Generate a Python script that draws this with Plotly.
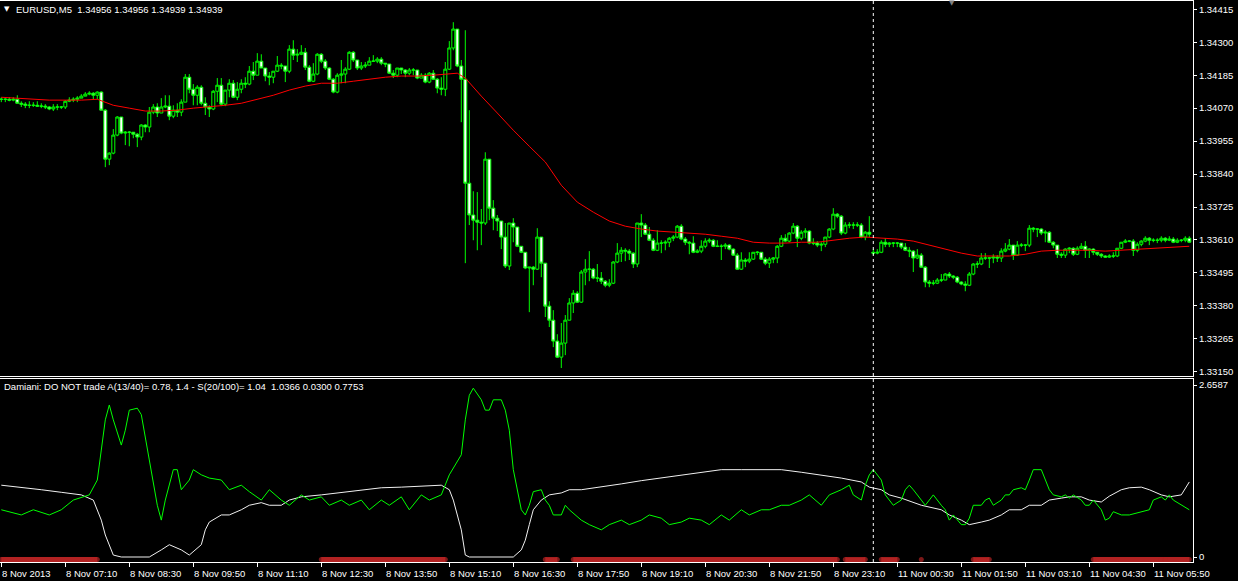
import plotly.graph_objects as go
import pandas as pd

# ---------------- text ----------------
symbol_title = "EURUSD,M5\u00a0\u00a01.34956 1.34956 1.34939 1.34939"
indicator_title = ("Damiani: DO NOT trade A(13/40)= 0.78, 1.4 - S(20/100)= 1.04"
                   "\u00a0\u00a01.0366 0.0300 0.7753")

# ---------------- bar times (M5) ----------------
session1 = pd.date_range("2013-11-08 05:50", "2013-11-08 23:55", freq="5min")
session2 = pd.date_range("2013-11-11 00:00", "2013-11-11 06:35", freq="5min")
times = list(session1) + list(session2)

# ---------------- prices ----------------
first_open = 1.34101
week_open = 1.33567   # first bar of 11 Nov opens with a gap

closes = [
    1.34101, 1.34101, 1.34098, 1.34101, 1.34087, 1.34084, 1.34080, 1.34080, 1.34080, 1.34077,
    1.34077, 1.34074, 1.34067, 1.34074, 1.34074, 1.34074, 1.34094, 1.34098, 1.34101, 1.34105,
    1.34112, 1.34119, 1.34122, 1.34115, 1.34126, 1.34063, 1.33892, 1.33913, 1.33976, 1.34039,
    1.33983, 1.33986, 1.33986, 1.33979, 1.33969, 1.34011, 1.34004, 1.34056, 1.34074, 1.34053,
    1.34074, 1.34077, 1.34042, 1.34063, 1.34056, 1.34091, 1.34178, 1.34136, 1.34115, 1.34143,
    1.34087, 1.34074, 1.34067, 1.34129, 1.34150, 1.34084, 1.34133, 1.34157, 1.34108, 1.34136,
    1.34157, 1.34154, 1.34199, 1.34185, 1.34234, 1.34210, 1.34182, 1.34178, 1.34199, 1.34220,
    1.34217, 1.34199, 1.34276, 1.34255, 1.34258, 1.34265, 1.34213, 1.34164, 1.34189, 1.34258,
    1.34234, 1.34210, 1.34171, 1.34126, 1.34185, 1.34189, 1.34206, 1.34265, 1.34238, 1.34210,
    1.34217, 1.34220, 1.34234, 1.34234, 1.34241, 1.34227, 1.34224, 1.34192, 1.34185, 1.34210,
    1.34203, 1.34192, 1.34203, 1.34203, 1.34175, 1.34185, 1.34161, 1.34192, 1.34171, 1.34140,
    1.34136, 1.34206, 1.34280, 1.34346, 1.34217, 1.34171, 1.33808, 1.33697, 1.33679, 1.33672,
    1.33669, 1.33892, 1.33721, 1.33686, 1.33676, 1.33620, 1.33519, 1.33669, 1.33655, 1.33588,
    1.33567, 1.33512, 1.33515, 1.33508, 1.33620, 1.33529, 1.33379, 1.33330, 1.33257, 1.33201,
    1.33250, 1.33330, 1.33390, 1.33424, 1.33393, 1.33498, 1.33508, 1.33508, 1.33477, 1.33477,
    1.33466, 1.33452, 1.33459, 1.33533, 1.33564, 1.33574, 1.33571, 1.33564, 1.33526, 1.33669,
    1.33662, 1.33630, 1.33609, 1.33574, 1.33599, 1.33599, 1.33602, 1.33616, 1.33620, 1.33658,
    1.33613, 1.33602, 1.33599, 1.33567, 1.33571, 1.33588, 1.33606, 1.33609, 1.33588, 1.33588,
    1.33588, 1.33592, 1.33578, 1.33557, 1.33508, 1.33540, 1.33536, 1.33543, 1.33567, 1.33567,
    1.33543, 1.33529, 1.33543, 1.33547, 1.33588, 1.33616, 1.33606, 1.33634, 1.33658, 1.33616,
    1.33637, 1.33641, 1.33599, 1.33599, 1.33592, 1.33595, 1.33620, 1.33648, 1.33700, 1.33693,
    1.33634, 1.33662, 1.33662, 1.33662, 1.33662, 1.33620, 1.33637, 1.33630, 1.33564, 1.33567,
    1.33602, 1.33595, 1.33599, 1.33599, 1.33599, 1.33585, 1.33574, 1.33571, 1.33547, 1.33557,
    1.33515, 1.33463, 1.33459, 1.33459, 1.33470, 1.33470, 1.33491, 1.33484, 1.33480, 1.33463,
    1.33456, 1.33452, 1.33491, 1.33526, 1.33526, 1.33547, 1.33547, 1.33547, 1.33550, 1.33547,
    1.33571, 1.33578, 1.33592, 1.33557, 1.33592, 1.33592, 1.33592, 1.33651, 1.33648, 1.33648,
    1.33634, 1.33637, 1.33602, 1.33592, 1.33560, 1.33557, 1.33578, 1.33581, 1.33560, 1.33581,
    1.33588, 1.33574, 1.33578, 1.33567, 1.33560, 1.33554, 1.33550, 1.33554, 1.33554, 1.33581,
    1.33602, 1.33606, 1.33606, 1.33574, 1.33595, 1.33606, 1.33616, 1.33609, 1.33609, 1.33609,
    1.33616, 1.33609, 1.33613, 1.33602, 1.33609, 1.33609, 1.33616, 1.33602,
]

highs = [
    1.34108, 1.34105, 1.34108, 1.34108, 1.34115, 1.34094, 1.34091, 1.34094, 1.34091, 1.34094,
    1.34087, 1.34084, 1.34077, 1.34084, 1.34084, 1.34077, 1.34098, 1.34108, 1.34108, 1.34112,
    1.34119, 1.34126, 1.34129, 1.34126, 1.34129, 1.34129, 1.34067, 1.33916, 1.33997, 1.34042,
    1.34039, 1.33990, 1.33990, 1.33986, 1.33983, 1.34014, 1.34014, 1.34074, 1.34084, 1.34087,
    1.34105, 1.34115, 1.34115, 1.34080, 1.34087, 1.34101, 1.34189, 1.34189, 1.34154, 1.34150,
    1.34150, 1.34108, 1.34080, 1.34133, 1.34175, 1.34175, 1.34133, 1.34171, 1.34168, 1.34161,
    1.34171, 1.34178, 1.34217, 1.34231, 1.34262, 1.34258, 1.34206, 1.34196, 1.34199, 1.34252,
    1.34227, 1.34213, 1.34290, 1.34307, 1.34276, 1.34290, 1.34280, 1.34220, 1.34227, 1.34262,
    1.34262, 1.34241, 1.34213, 1.34175, 1.34192, 1.34238, 1.34213, 1.34269, 1.34269, 1.34238,
    1.34231, 1.34231, 1.34248, 1.34255, 1.34248, 1.34248, 1.34227, 1.34220, 1.34203, 1.34210,
    1.34210, 1.34206, 1.34210, 1.34210, 1.34203, 1.34192, 1.34192, 1.34196, 1.34203, 1.34175,
    1.34178, 1.34231, 1.34304, 1.34370, 1.34346, 1.34238, 1.34342, 1.34063, 1.33780, 1.33777,
    1.33718, 1.33916, 1.33892, 1.33749, 1.33697, 1.33676, 1.33669, 1.33669, 1.33686, 1.33655,
    1.33588, 1.33567, 1.33515, 1.33519, 1.33651, 1.33620, 1.33529, 1.33396, 1.33365, 1.33281,
    1.33320, 1.33348, 1.33407, 1.33435, 1.33431, 1.33505, 1.33543, 1.33571, 1.33512, 1.33526,
    1.33498, 1.33470, 1.33473, 1.33536, 1.33599, 1.33585, 1.33581, 1.33578, 1.33567, 1.33669,
    1.33700, 1.33669, 1.33655, 1.33616, 1.33644, 1.33609, 1.33609, 1.33620, 1.33627, 1.33662,
    1.33665, 1.33620, 1.33606, 1.33623, 1.33578, 1.33609, 1.33616, 1.33616, 1.33613, 1.33609,
    1.33595, 1.33599, 1.33595, 1.33581, 1.33564, 1.33567, 1.33547, 1.33567, 1.33567, 1.33571,
    1.33567, 1.33550, 1.33550, 1.33550, 1.33592, 1.33627, 1.33630, 1.33637, 1.33669, 1.33662,
    1.33644, 1.33651, 1.33644, 1.33616, 1.33606, 1.33602, 1.33620, 1.33651, 1.33721, 1.33704,
    1.33697, 1.33672, 1.33672, 1.33672, 1.33672, 1.33669, 1.33641, 1.33693, 1.33578, 1.33578,
    1.33609, 1.33616, 1.33602, 1.33602, 1.33602, 1.33599, 1.33599, 1.33585, 1.33574, 1.33578,
    1.33564, 1.33519, 1.33470, 1.33470, 1.33477, 1.33491, 1.33494, 1.33498, 1.33487, 1.33484,
    1.33466, 1.33466, 1.33498, 1.33529, 1.33536, 1.33564, 1.33564, 1.33550, 1.33560, 1.33557,
    1.33581, 1.33599, 1.33613, 1.33592, 1.33606, 1.33599, 1.33595, 1.33662, 1.33655, 1.33651,
    1.33651, 1.33644, 1.33641, 1.33606, 1.33592, 1.33567, 1.33581, 1.33585, 1.33585, 1.33588,
    1.33599, 1.33606, 1.33581, 1.33581, 1.33567, 1.33564, 1.33557, 1.33560, 1.33567, 1.33581,
    1.33602, 1.33613, 1.33609, 1.33613, 1.33602, 1.33609, 1.33623, 1.33620, 1.33616, 1.33616,
    1.33623, 1.33620, 1.33623, 1.33620, 1.33616, 1.33613, 1.33623, 1.33623,
]

lows = [
    1.34091, 1.34091, 1.34094, 1.34094, 1.34087, 1.34074, 1.34070, 1.34070, 1.34074, 1.34074,
    1.34070, 1.34067, 1.34063, 1.34060, 1.34063, 1.34067, 1.34067, 1.34091, 1.34091, 1.34091,
    1.34105, 1.34112, 1.34115, 1.34101, 1.34101, 1.34063, 1.33864, 1.33871, 1.33909, 1.33972,
    1.33979, 1.33941, 1.33937, 1.33965, 1.33934, 1.33958, 1.33986, 1.33986, 1.34049, 1.34039,
    1.34053, 1.34070, 1.34028, 1.34035, 1.34039, 1.34042, 1.34091, 1.34122, 1.34080, 1.34080,
    1.34080, 1.34046, 1.34039, 1.34063, 1.34091, 1.34077, 1.34077, 1.34108, 1.34105, 1.34098,
    1.34122, 1.34140, 1.34150, 1.34168, 1.34185, 1.34210, 1.34164, 1.34150, 1.34157, 1.34196,
    1.34206, 1.34161, 1.34192, 1.34238, 1.34231, 1.34255, 1.34203, 1.34161, 1.34161, 1.34185,
    1.34227, 1.34203, 1.34168, 1.34122, 1.34122, 1.34157, 1.34157, 1.34203, 1.34231, 1.34203,
    1.34203, 1.34210, 1.34220, 1.34231, 1.34227, 1.34220, 1.34213, 1.34189, 1.34175, 1.34178,
    1.34189, 1.34178, 1.34185, 1.34185, 1.34171, 1.34175, 1.34157, 1.34157, 1.34168, 1.34122,
    1.34115, 1.34112, 1.34203, 1.34272, 1.34213, 1.34021, 1.33529, 1.33662, 1.33609, 1.33574,
    1.33592, 1.33662, 1.33679, 1.33644, 1.33641, 1.33578, 1.33512, 1.33505, 1.33602, 1.33585,
    1.33564, 1.33508, 1.33358, 1.33452, 1.33505, 1.33480, 1.33341, 1.33306, 1.33236, 1.33198,
    1.33163, 1.33208, 1.33351, 1.33355, 1.33390, 1.33390, 1.33452, 1.33466, 1.33473, 1.33463,
    1.33456, 1.33445, 1.33445, 1.33456, 1.33529, 1.33533, 1.33536, 1.33540, 1.33512, 1.33515,
    1.33620, 1.33627, 1.33606, 1.33571, 1.33571, 1.33564, 1.33574, 1.33585, 1.33606, 1.33616,
    1.33609, 1.33592, 1.33560, 1.33564, 1.33564, 1.33564, 1.33581, 1.33599, 1.33585, 1.33585,
    1.33540, 1.33578, 1.33574, 1.33554, 1.33505, 1.33505, 1.33515, 1.33529, 1.33540, 1.33557,
    1.33540, 1.33522, 1.33512, 1.33529, 1.33529, 1.33585, 1.33602, 1.33602, 1.33630, 1.33585,
    1.33609, 1.33616, 1.33595, 1.33592, 1.33585, 1.33571, 1.33585, 1.33616, 1.33644, 1.33686,
    1.33627, 1.33630, 1.33651, 1.33648, 1.33655, 1.33616, 1.33609, 1.33620, 1.33557, 1.33560,
    1.33564, 1.33585, 1.33585, 1.33585, 1.33585, 1.33578, 1.33571, 1.33550, 1.33498, 1.33543,
    1.33512, 1.33445, 1.33445, 1.33452, 1.33456, 1.33463, 1.33470, 1.33477, 1.33473, 1.33459,
    1.33452, 1.33431, 1.33449, 1.33487, 1.33512, 1.33522, 1.33540, 1.33512, 1.33529, 1.33533,
    1.33533, 1.33567, 1.33574, 1.33540, 1.33554, 1.33585, 1.33571, 1.33585, 1.33637, 1.33620,
    1.33627, 1.33602, 1.33599, 1.33581, 1.33547, 1.33547, 1.33547, 1.33564, 1.33554, 1.33557,
    1.33578, 1.33547, 1.33547, 1.33557, 1.33554, 1.33547, 1.33547, 1.33547, 1.33547, 1.33550,
    1.33578, 1.33599, 1.33602, 1.33554, 1.33567, 1.33588, 1.33602, 1.33592, 1.33602, 1.33599,
    1.33602, 1.33602, 1.33606, 1.33599, 1.33599, 1.33602, 1.33602, 1.33599,
]

# moving average (red), read at every 4th bar
ma_idx = [0, 4, 8, 12, 16, 20, 24, 28, 32, 36, 40, 44, 48, 52, 56, 60, 64, 68, 72, 76,
          80, 84, 88, 92, 96, 100, 104, 108, 112, 114, 116, 118, 120, 124, 128, 132, 136,
          140, 144, 148, 152, 156, 160, 164, 168, 172, 176, 180, 184, 188, 192, 196, 200,
          204, 208, 212, 216, 220, 224, 228, 232, 236, 240, 244, 248, 252, 256, 260, 264,
          268, 272, 276, 280, 284, 288, 292, 296, 297]
ma_values = [1.34108, 1.34105, 1.34101, 1.34098, 1.34098, 1.34098, 1.34101, 1.34080, 1.34070,
             1.34060, 1.34060, 1.34063, 1.34070, 1.34074, 1.34080, 1.34087, 1.34101, 1.34115,
             1.34133, 1.34147, 1.34157, 1.34157, 1.34164, 1.34171, 1.34178, 1.34182, 1.34182,
             1.34185, 1.34189, 1.34192, 1.34175, 1.34143, 1.34112, 1.34053, 1.33993, 1.33937,
             1.33882, 1.33801, 1.33742, 1.33707, 1.33676, 1.33658, 1.33648, 1.33641, 1.33637,
             1.33634, 1.33630, 1.33623, 1.33616, 1.33602, 1.33599, 1.33599, 1.33602, 1.33602,
             1.33609, 1.33616, 1.33620, 1.33616, 1.33613, 1.33606, 1.33592, 1.33578, 1.33564,
             1.33554, 1.33554, 1.33554, 1.33560, 1.33571, 1.33574, 1.33574, 1.33574, 1.33571,
             1.33574, 1.33578, 1.33581, 1.33585, 1.33588, 1.33588]

# ---------------- Damiani volatmeter ----------------
vol_points = [(0, 0.73), (5, 0.65), (8, 0.73), (12, 0.65), (15, 0.73), (18, 0.88), (22, 0.96),
              (24, 1.19), (26, 2.12), (27, 2.35), (28, 2.12), (30, 1.73), (31, 1.96), (32, 2.27),
              (34, 2.30), (35, 2.20), (37, 1.50), (39, 0.80), (40, 0.57), (41, 0.88), (43, 1.35),
              (44, 1.35), (45, 1.04), (47, 1.19), (48, 1.35), (50, 1.27), (52, 1.22), (55, 1.19),
              (57, 1.04), (60, 1.11), (62, 1.01), (65, 0.88), (67, 1.04), (70, 0.88), (72, 0.80),
              (75, 0.96), (77, 0.88), (80, 0.93), (82, 0.80), (85, 0.88), (87, 0.80), (90, 0.88),
              (92, 0.73), (95, 0.88), (97, 0.80), (100, 0.93), (102, 0.73), (105, 0.96),
              (107, 0.88), (110, 0.96), (112, 1.27), (115, 1.58), (116, 2.12), (117, 2.50),
              (118, 2.61), (120, 2.43), (121, 2.27), (122, 2.27), (123, 2.43), (125, 2.43),
              (126, 2.27), (127, 1.96), (128, 1.35), (130, 0.73), (131, 0.65), (132, 0.80),
              (133, 1.01), (135, 1.04), (136, 0.88), (137, 0.80), (138, 0.65), (140, 0.65),
              (141, 0.80), (142, 0.73), (145, 0.57), (147, 0.50), (150, 0.42), (152, 0.50),
              (155, 0.57), (157, 0.50), (160, 0.57), (162, 0.65), (165, 0.60), (167, 0.50),
              (170, 0.54), (172, 0.60), (175, 0.57), (177, 0.50), (180, 0.65), (182, 0.57),
              (185, 0.73), (187, 0.65), (190, 0.73), (192, 0.73), (195, 0.80), (197, 0.80),
              (200, 0.88), (202, 0.96), (205, 0.80), (207, 0.96), (210, 1.04), (212, 1.11),
              (213, 0.96), (215, 0.88), (216, 1.11), (217, 1.27), (218, 1.35), (220, 1.19),
              (221, 0.96), (222, 0.88), (223, 0.80), (225, 0.88), (226, 1.04), (227, 1.11),
              (228, 1.04), (230, 0.88), (231, 0.80), (232, 0.88), (233, 0.96), (235, 0.80),
              (236, 0.73), (237, 0.57), (238, 0.65), (240, 0.50), (241, 0.50), (242, 0.60),
              (243, 0.80), (245, 0.80), (246, 0.88), (247, 0.91), (248, 0.80), (250, 0.88),
              (251, 0.96), (252, 0.96), (253, 1.04), (255, 1.07), (256, 1.04), (257, 1.19),
              (258, 1.35), (260, 1.35), (261, 1.19), (262, 1.04), (263, 0.96), (265, 0.93),
              (266, 0.96), (267, 0.91), (268, 0.96), (270, 0.88), (271, 0.80), (272, 0.80),
              (273, 0.88), (275, 0.73), (276, 0.57), (277, 0.60), (278, 0.70), (280, 0.65),
              (282, 0.65), (285, 0.70), (287, 0.73), (288, 0.88), (290, 0.93), (291, 0.88),
              (292, 0.96), (293, 0.88), (295, 0.80), (297, 0.73)]

threshold_points = [(0, 1.11), (5, 1.08), (10, 1.04), (15, 1.00), (20, 0.96), (23, 0.88),
                    (25, 0.57), (26, 0.34), (27, 0.19), (28, 0.03), (30, 0.0), (32, 0.0),
                    (35, 0.0), (37, 0.0), (40, 0.11), (42, 0.19), (45, 0.11), (47, 0.03),
                    (50, 0.19), (51, 0.42), (52, 0.54), (55, 0.65), (57, 0.65), (60, 0.73),
                    (62, 0.80), (65, 0.84), (67, 0.80), (70, 0.80), (72, 0.88), (75, 0.93),
                    (80, 0.96), (85, 1.00), (90, 1.04), (95, 1.07), (100, 1.08), (105, 1.10),
                    (110, 1.11), (112, 1.04), (113, 0.88), (115, 0.42), (116, 0.03), (117, 0.0),
                    (120, 0.0), (125, 0.0), (128, 0.0), (130, 0.11), (131, 0.26), (132, 0.50),
                    (133, 0.73), (135, 0.88), (137, 0.96), (140, 0.99), (142, 1.04), (145, 1.04),
                    (150, 1.08), (155, 1.13), (160, 1.18), (165, 1.22), (170, 1.27), (175, 1.31),
                    (180, 1.35), (185, 1.35), (190, 1.35), (195, 1.35), (200, 1.31), (205, 1.27),
                    (210, 1.22), (215, 1.16), (217, 1.08), (220, 1.04), (222, 0.96), (225, 0.91),
                    (230, 0.80), (235, 0.73), (237, 0.65), (240, 0.57), (242, 0.50), (245, 0.54),
                    (247, 0.57), (250, 0.65), (252, 0.73), (255, 0.73), (257, 0.80), (260, 0.80),
                    (262, 0.88), (265, 0.91), (267, 0.93), (270, 0.93), (272, 0.88), (275, 0.85),
                    (277, 0.94), (280, 1.04), (282, 1.07), (285, 1.08), (287, 1.04), (290, 0.96),
                    (292, 0.93), (295, 0.96), (297, 1.16)]

no_trade_ranges = [(0, 24), (80, 111), (136, 139), (143, 209), (211, 216), (220, 224),
                   (230, 230), (243, 247), (273, 290), (291, 297)]
no_trade_level = -0.04

# ---------------- axis labels ----------------
price_ticks = [1.33150, 1.33265, 1.33380, 1.33495, 1.33610, 1.33725, 1.33840,
               1.33955, 1.34070, 1.34185, 1.34300, 1.34415]
indicator_ticks = [0, 2.6587]
indicator_tick_text = ["0", "2.6587"]
tick_labels = ["8 Nov 2013", "8 Nov 07:10", "8 Nov 08:30", "8 Nov 09:50", "8 Nov 11:10",
               "8 Nov 12:30", "8 Nov 13:50", "8 Nov 15:10", "8 Nov 16:30", "8 Nov 17:50",
               "8 Nov 19:10", "8 Nov 20:30", "8 Nov 21:50", "8 Nov 23:10", "11 Nov 00:30",
               "11 Nov 01:50", "11 Nov 03:10", "11 Nov 04:30", "11 Nov 05:50"]
bars_per_label = 16

# ---------------- derived ----------------
n = len(closes)
idx = list(range(n))
week_start = next(i for i, t in enumerate(times) if t.day != times[0].day)
opens = [first_open] + closes[:-1]
opens[week_start] = week_open
highs = [max(h, o, c) for h, o, c in zip(highs, opens, closes)]
lows = [min(l, o, c) for l, o, c in zip(lows, opens, closes)]

no_trade = [None] * n
end_caps = [0] * n
for a, b in no_trade_ranges:
    for i in range(a, b + 1):
        no_trade[i] = no_trade_level
    end_caps[a] = 5
    end_caps[b] = 5

tick_idx = list(range(0, n, bars_per_label))[:len(tick_labels)]

LIME = "#00FF00"
RED_MARK = "#B22222"
FONT = "Liberation Sans"
FS = 9.5
W, H = 1238, 581
PLOT_W, PLOT_H = 1193, 562

fig = go.Figure()
fig.add_trace(go.Candlestick(
    x=idx, open=opens, high=highs, low=lows, close=closes,
    increasing=dict(line=dict(color=LIME, width=1), fillcolor="black"),
    decreasing=dict(line=dict(color=LIME, width=1), fillcolor="white"),
    whiskerwidth=0, xaxis="x", yaxis="y", showlegend=False, hoverinfo="skip"))
fig.add_trace(go.Scatter(x=ma_idx, y=ma_values, mode="lines",
                         line=dict(color="#FF0000", width=1), xaxis="x", yaxis="y",
                         showlegend=False, hoverinfo="skip"))

fig.add_trace(go.Scatter(x=idx, y=no_trade, mode="lines+markers",
                         line=dict(color=RED_MARK, width=5),
                         marker=dict(color=RED_MARK, size=end_caps, line=dict(width=0)),
                         connectgaps=False, xaxis="x2", yaxis="y2",
                         showlegend=False, hoverinfo="skip"))
fig.add_trace(go.Scatter(x=[p[0] for p in threshold_points], y=[p[1] for p in threshold_points],
                         mode="lines", line=dict(color="#F0F0F0", width=1),
                         xaxis="x2", yaxis="y2", showlegend=False, hoverinfo="skip"))
fig.add_trace(go.Scatter(x=[p[0] for p in vol_points], y=[p[1] for p in vol_points],
                         mode="lines", line=dict(color=LIME, width=1),
                         xaxis="x2", yaxis="y2", showlegend=False, hoverinfo="skip"))

px_per_bar = 4.0
x_lo = -1.3 / px_per_bar
x_hi = x_lo + PLOT_W / px_per_bar

# vertical scales
price_per_px = 0.00115 / 32.95
top_label_px = 9.3
y_top = price_ticks[-1] + (top_label_px - 1) * price_per_px
y_bot = price_ticks[-1] - (376 - top_label_px) * price_per_px
ind_per_px = indicator_ticks[1] / (557 - 385)
y2_bot = -(562 - 557) * ind_per_px
y2_top = (557 - 379) * ind_per_px

axis_common = dict(showgrid=False, zeroline=False, color="white",
                   tickfont=dict(family=FONT, size=FS, color="white"))

fig.update_layout(
    width=W, height=H, paper_bgcolor="black", plot_bgcolor="black",
    margin=dict(l=0, r=W - PLOT_W, t=0, b=H - PLOT_H, autoexpand=False),
    hovermode=False, showlegend=False, boxgap=0.25, boxgroupgap=0,
    xaxis=dict(domain=[0, 1], range=[x_lo, x_hi], anchor="y", showticklabels=False,
               ticks="", showline=True, mirror=True, linecolor="white", linewidth=1,
               rangeslider=dict(visible=False), showgrid=False, zeroline=False),
    xaxis2=dict(domain=[0, 1], range=[x_lo, x_hi], anchor="y2", matches="x",
                showticklabels=False, ticks="outside", ticklen=4, tickcolor="white",
                tickmode="array", tickvals=tick_idx, showline=True, mirror=True,
                linecolor="white", linewidth=1, showgrid=False, zeroline=False),
    yaxis=dict(domain=[(PLOT_H - 376) / PLOT_H, (PLOT_H - 1) / PLOT_H], range=[y_bot, y_top],
               side="right", anchor="x", tickmode="array", tickvals=price_ticks,
               ticktext=[f"{v:.5f}" for v in price_ticks], ticks="outside", ticklen=3,
               tickcolor="white", showline=True, linecolor="white", linewidth=1,
               **axis_common),
    yaxis2=dict(domain=[0, (PLOT_H - 379) / PLOT_H], range=[y2_bot, y2_top],
                side="right", anchor="x2", tickmode="array", tickvals=indicator_ticks,
                ticktext=indicator_tick_text, ticks="outside", ticklen=3,
                tickcolor="white", showline=True, linecolor="white", linewidth=1,
                **axis_common),
)

# day separator
fig.add_shape(type="line", xref="x", yref="paper", x0=week_start, x1=week_start,
              y0=0, y1=1, line=dict(color="white", width=1, dash="3px,3px"))

anns = []
anns.append(dict(text="\u25BC", xref="paper", yref="paper", x=2 / PLOT_W,
                 y=(PLOT_H - 9) / PLOT_H, xanchor="left", yanchor="middle", showarrow=False,
                 font=dict(family="DejaVu Sans", size=7, color="white")))
anns.append(dict(text=symbol_title, xref="paper", yref="paper", x=14 / PLOT_W,
                 y=(PLOT_H - 9) / PLOT_H, xanchor="left", yanchor="middle", showarrow=False,
                 font=dict(family=FONT, size=FS, color="white")))
anns.append(dict(text="\u25BC", xref="paper", yref="paper", x=952 / PLOT_W,
                 y=(PLOT_H - 3) / PLOT_H, xanchor="center", yanchor="middle",
                 showarrow=False, font=dict(family="DejaVu Sans", size=7, color="#808080")))
anns.append(dict(text=indicator_title, xref="paper", yref="paper", x=2 / PLOT_W,
                 y=(PLOT_H - 386) / PLOT_H, xanchor="left", yanchor="middle",
                 showarrow=False, font=dict(family=FONT, size=FS, color="white")))
for ti, lab in zip(tick_idx, tick_labels):
    anns.append(dict(text=lab, xref="x2", yref="paper", x=ti, xshift=-1,
                     y=(PLOT_H - 573) / PLOT_H, xanchor="left", yanchor="middle",
                     showarrow=False, font=dict(family=FONT, size=FS, color="white")))
fig.update_layout(annotations=anns)

fig.write_html("out.html", config={"displayModeBar": False, "staticPlot": True},
               post_script="document.body.style.margin='0px';"
                           "document.body.style.overflow='hidden';")
